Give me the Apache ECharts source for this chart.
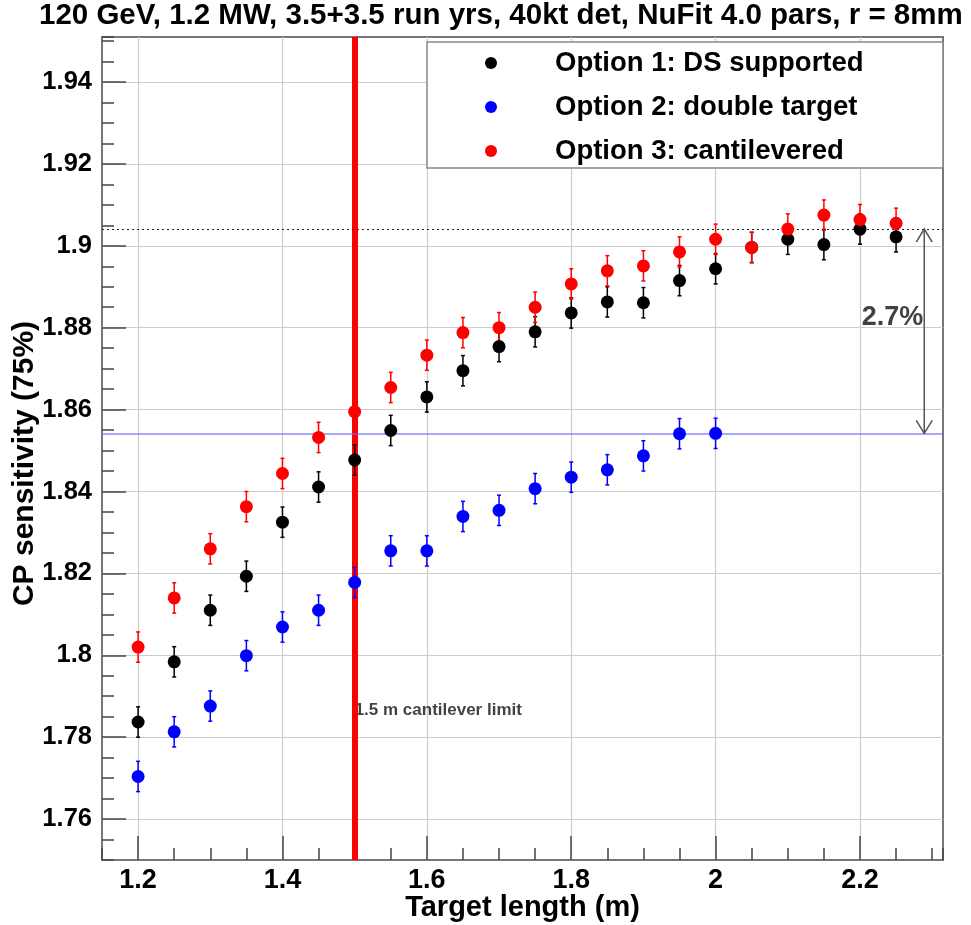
<!DOCTYPE html>
<html>
<head>
<meta charset="utf-8">
<script src="https://cdn.jsdelivr.net/npm/echarts@6/dist/echarts.min.js"></script>
<style>
html, body { margin: 0; padding: 0; background: #fff; }
#chart { width: 971px; height: 925px; }
</style>
</head>
<body>
<div id="chart"></div>
<script>
// target lengths (m)
const lengths = [1.2, 1.25, 1.3, 1.35, 1.4, 1.45, 1.5, 1.55, 1.6, 1.65, 1.7,
                 1.75, 1.8, 1.85, 1.9, 1.95, 2.0, 2.05, 2.1, 2.15, 2.2, 2.25];
// CP sensitivity (75%)
const dsSupported = [1.7837, 1.7984, 1.8110, 1.8193, 1.8325, 1.8411, 1.8477, 1.8549, 1.8631, 1.8695, 1.8754,
                     1.8790, 1.8836, 1.8863, 1.8861, 1.8915, 1.8944, 1.8996, 1.9016, 1.9003, 1.9041, 1.9022];
const doubleTarget = [1.7704, 1.7813, 1.7876, 1.7999, 1.8069, 1.8110, 1.8178, 1.8255, 1.8255, 1.8339, 1.8354,
                      1.8407, 1.8435, 1.8453, 1.8487, 1.8541, 1.8542];
const cantilevered = [1.8020, 1.8140, 1.8260, 1.8363, 1.8444, 1.8532, 1.8595, 1.8654, 1.8733, 1.8788, 1.8800,
                      1.8850, 1.8907, 1.8939, 1.8951, 1.8985, 1.9016, 1.8996, 1.9041, 1.9075, 1.9064, 1.9055];
const errDs = 0.0037, errDouble = 0.0037, errCanti = 0.0037;

const xTicks = [1.2, 1.4, 1.6, 1.8, 2, 2.2];
const yTicks = [1.76, 1.78, 1.8, 1.82, 1.84, 1.86, 1.88, 1.9, 1.92, 1.94];

// reference lines / annotations
const plateau = 1.9041;
const doubleMax = 1.8542;
const cantileverLimit = 1.5;
const arrowX = 2.289;
const notes = [
    {x: 1.5, y: 1.7866, text: '1.5 m cantilever limit', size: 17, align: 'left'},
    {x: 2.245, y: 1.8826, text: '2.7%', size: 27, align: 'center'}
];

const FONT = '"Liberation Sans", Arial, Helvetica, sans-serif';

function points(ys) {
    return ys.map((y, i) => [lengths[i], y]);
}
function errors(ys, e) {
    return ys.map((y, i) => [lengths[i], y - e, y + e]);
}
function errorBar(color) {
    return function (params, api) {
        const lo = api.coord([api.value(0), api.value(1)]);
        const hi = api.coord([api.value(0), api.value(2)]);
        const style = {stroke: color, lineWidth: 1.5};
        return {
            type: 'group',
            children: [
                {type: 'line', shape: {x1: lo[0], y1: lo[1], x2: hi[0], y2: hi[1]}, style: style},
                {type: 'line', shape: {x1: lo[0] - 2, y1: lo[1], x2: lo[0] + 2, y2: lo[1]}, style: style},
                {type: 'line', shape: {x1: hi[0] - 2, y1: hi[1], x2: hi[0] + 2, y2: hi[1]}, style: style}
            ]
        };
    };
}
function arrow(params, api) {
    const a = api.coord([api.value(0), api.value(1)]);
    const b = api.coord([api.value(0), api.value(2)]);
    const style = {stroke: '#555', lineWidth: 1.5, fill: 'none'};
    return {
        type: 'group',
        children: [
            {type: 'line', shape: {x1: a[0], y1: a[1], x2: b[0], y2: b[1]}, style: style},
            {type: 'polyline', shape: {points: [[a[0] - 8, a[1] + 13], [a[0], a[1]], [a[0] + 8, a[1] + 13]]}, style: style},
            {type: 'polyline', shape: {points: [[b[0] - 8, b[1] - 13], [b[0], b[1]], [b[0] + 8, b[1] - 13]]}, style: style}
        ]
    };
}

const chart = echarts.init(document.getElementById('chart'));

const splitStyle = {show: true, lineStyle: {color: '#cccccc', width: 1.2}};

chart.setOption({
    animation: false,
    backgroundColor: '#fff',
    title: {
        text: '120 GeV, 1.2 MW, 3.5+3.5 run yrs, 40kt det, NuFit 4.0 pars, r = 8mm',
        left: 39,
        top: 1,
        padding: 0,
        textStyle: {fontFamily: FONT, fontSize: 29.5, fontWeight: 'bold', color: '#000'}
    },
    legend: {
        data: ['Option 1: DS supported', 'Option 2: double target', 'Option 3: cantilevered'],
        orient: 'vertical',
        left: 485,
        top: 49,
        padding: 0,
        itemGap: 16,
        itemWidth: 12,
        itemHeight: 12,
        icon: 'circle',
        z: 6,
        textStyle: {fontFamily: FONT, fontSize: 27.5, fontWeight: 'bold', color: '#000',
                    lineHeight: 27, padding: [0, 0, 0, 53]}
    },
    graphic: [{
        type: 'rect',
        z: 5,
        shape: {x: 427, y: 42, width: 516, height: 126},
        style: {fill: '#fff', stroke: '#888', lineWidth: 1.5}
    }],
    grid: {
        left: 102, right: 28, top: 37, bottom: 65,
        outerBoundsMode: 'none',
        containLabel: false,
        show: true, borderColor: '#777', borderWidth: 2
    },
    xAxis: [{
        type: 'value',
        min: 1.15, max: 2.315,
        position: 'bottom',
        axisLine: {show: false},
        axisTick: {inside: true, length: 24, customValues: xTicks, lineStyle: {color: '#444', width: 1.5}},
        axisLabel: {customValues: xTicks, margin: 7, fontFamily: FONT, fontSize: 27, fontWeight: 'bold', color: '#000'},
        splitLine: splitStyle,
        name: 'Target length (m)',
        nameLocation: 'middle',
        nameGap: 33,
        nameMoveOverlap: false,
        nameTextStyle: {fontFamily: FONT, fontSize: 29, fontWeight: 'bold', color: '#000'}
    }, {
        type: 'value',
        min: 1.15, max: 2.315, interval: 0.05,
        position: 'bottom',
        axisLine: {show: false},
        axisTick: {inside: true, length: 12, lineStyle: {color: '#444', width: 1.5}},
        axisLabel: {show: false},
        splitLine: {show: false}
    }],
    yAxis: [{
        type: 'value',
        min: 1.75, max: 1.951,
        position: 'left',
        axisLine: {show: false},
        axisTick: {inside: true, length: 24, customValues: yTicks, lineStyle: {color: '#444', width: 1.5}},
        axisLabel: {customValues: yTicks, margin: 10, fontFamily: FONT, fontSize: 25.5, fontWeight: 'bold', color: '#000'},
        splitLine: splitStyle,
        name: 'CP sensitivity (75%)',
        nameLocation: 'middle',
        nameRotate: 90,
        nameGap: 62,
        nameMoveOverlap: false,
        nameTextStyle: {fontFamily: FONT, fontSize: 30, fontWeight: 'bold', color: '#000', padding: [0, 30, 0, 0]}
    }, {
        type: 'value',
        min: 1.75, max: 1.951, interval: 0.005,
        position: 'left',
        axisLine: {show: false},
        axisTick: {inside: true, length: 12, lineStyle: {color: '#444', width: 1.5}},
        axisLabel: {show: false},
        splitLine: {show: false}
    }],
    series: [
        {
            name: 'notes',
            type: 'scatter',
            z: 1,
            symbolSize: 0,
            silent: true,
            data: notes.map(n => ({
                value: [n.x, n.y],
                label: {show: true, position: 'inside', formatter: n.text, align: n.align,
                        fontFamily: FONT, fontSize: n.size, fontWeight: 'bold', color: '#111'}
            })),
            markLine: {
                z: 2,
                silent: true,
                symbol: 'none',
                precision: 4,
                label: {show: false},
                emphasis: {disabled: true},
                data: [
                    {xAxis: cantileverLimit, lineStyle: {color: '#ff0000', width: 6, type: 'solid', opacity: 1}},
                    {yAxis: plateau, lineStyle: {color: '#222', width: 1.2, type: [2, 3], opacity: 1}},
                    {yAxis: doubleMax, lineStyle: {color: '#6f6fff', width: 1.5, type: 'solid', opacity: 0.8}}
                ]
            }
        },
        {
            name: 'arrow',
            type: 'custom',
            z: 2,
            silent: true,
            renderItem: arrow,
            encode: {x: 0, y: [1, 2]},
            data: [[arrowX, plateau, doubleMax]]
        },
        {type: 'custom', z: 3, renderItem: errorBar('#000'), encode: {x: 0, y: [1, 2]}, data: errors(dsSupported, errDs)},
        {type: 'custom', z: 3, renderItem: errorBar('#0000ff'), encode: {x: 0, y: [1, 2]}, data: errors(doubleTarget, errDouble)},
        {type: 'custom', z: 3, renderItem: errorBar('#ff0000'), encode: {x: 0, y: [1, 2]}, data: errors(cantilevered, errCanti)},
        {name: 'Option 1: DS supported', type: 'scatter', z: 4, symbolSize: 13,
         itemStyle: {color: '#000', opacity: 1}, data: points(dsSupported)},
        {name: 'Option 2: double target', type: 'scatter', z: 4, symbolSize: 13,
         itemStyle: {color: '#0000ff', opacity: 1}, data: points(doubleTarget)},
        {name: 'Option 3: cantilevered', type: 'scatter', z: 4, symbolSize: 13,
         itemStyle: {color: '#ff0000', opacity: 1}, data: points(cantilevered)}
    ]
});
</script>
</body>
</html>
